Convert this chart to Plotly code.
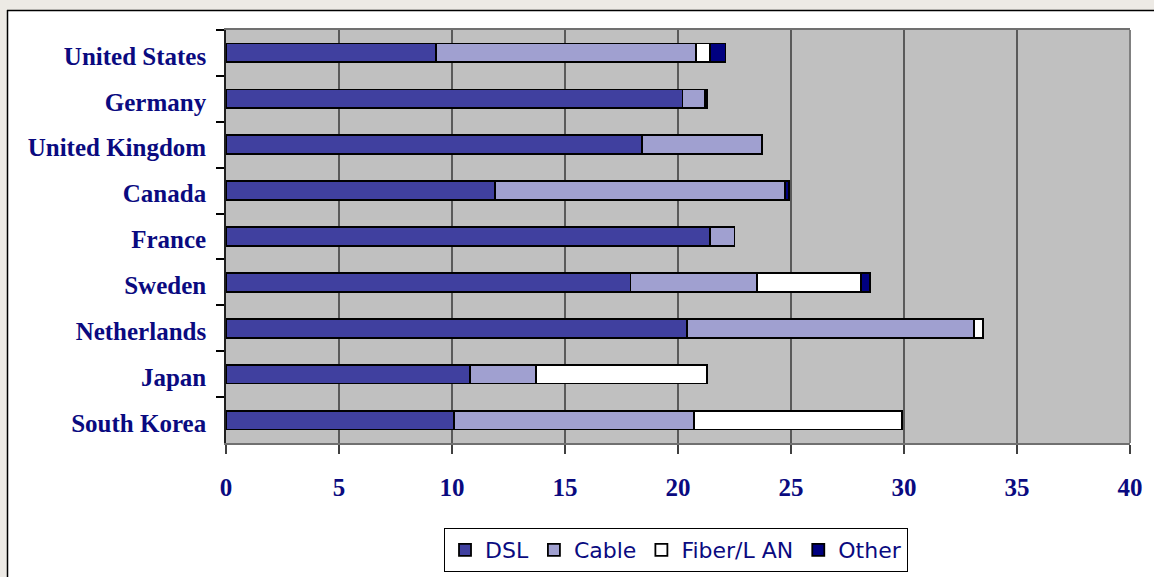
import plotly.graph_objects as go

countries = ["United States", "Germany", "United Kingdom", "Canada", "France",
             "Sweden", "Netherlands", "Japan", "South Korea"]
dsl = [9.3, 20.2, 18.4, 11.9, 21.4, 17.9, 20.4, 10.8, 10.1]
cable = [11.5, 1.0, 5.3, 12.85, 1.1, 5.6, 12.7, 2.9, 10.6]
fiber = [0.6, 0.0, 0.0, 0.0, 0.0, 4.6, 0.4, 7.6, 9.2]
other = [0.7, 0.1, 0.0, 0.15, 0.0, 0.4, 0.0, 0.0, 0.0]
x_ticks = [0, 5, 10, 15, 20, 25, 30, 35, 40]

series = [("DSL", dsl, "#40409F"), ("Cable", cable, "#A0A0D0"),
          ("Fiber/L AN", fiber, "#FFFFFF"), ("Other", other, "#000080")]

fig = go.Figure()
for name, vals, col in series:
    fig.add_trace(go.Bar(
        y=countries, x=vals, name=name, orientation="h",
        marker=dict(color=col, line=dict(color="#000000", width=1.8)),
    ))

navy = "#0A0A80"
fig.update_layout(
    width=1154, height=577,
    margin=dict(l=226, r=24, t=30, b=134, autoexpand=False),
    barmode="stack", bargap=0.59,
    paper_bgcolor="#FFFFFF", plot_bgcolor="#C0C0C0",
    showlegend=True,
    legend=dict(orientation="h", x=0.4978, xanchor="center",
                yref="container", y=1 - 528 / 577, yanchor="top",
                traceorder="normal", bgcolor="#FFFFFF", bordercolor="#000000", borderwidth=1,
                font=dict(family="DejaVu Sans", size=22, color=navy)),
    xaxis=dict(range=[0, 40], tickvals=x_ticks, ticktext=[str(v) for v in x_ticks],
               showgrid=True, gridcolor="#5A5A5A", gridwidth=1.6, zeroline=False,
               showline=True, linecolor="#707070", linewidth=2, mirror=True,
               ticks="outside", ticklen=9, tickcolor="#404040", tickwidth=1.5,
               ticklabelstandoff=12,
               tickfont=dict(family="Liberation Serif", size=25, color=navy, weight="bold")),
    yaxis=dict(autorange="reversed", showgrid=False, zeroline=False,
               showline=True, linecolor="#202020", linewidth=1.6,
               ticks="outside", tickson="boundaries", ticklen=8, tickcolor="#000000", tickwidth=1.5,
               ticklabelstandoff=13, ticklabelshift=-3,
               tickfont=dict(family="Liberation Serif", size=25, color=navy, weight="bold")),
    shapes=[
        dict(type="line", xref="paper", yref="paper", x0=1, x1=1, y0=0, y1=1,
             line=dict(color="#808080", width=2)),
        dict(type="rect", xref="paper", yref="paper", x0=-0.26, x1=1.05,
             y0=(443 - 10) / 413, y1=1.2, fillcolor="#EDEAE5", line=dict(width=0), layer="above"),
        dict(type="rect", xref="paper", yref="paper", x0=-0.26, x1=(7 - 226) / 904,
             y0=-0.4, y1=1.2, fillcolor="#EDEAE5", line=dict(width=0), layer="above"),
        dict(type="line", xref="paper", yref="paper", x0=(7 - 226) / 904, x1=1.05,
             y0=(443 - 10.5) / 413, y1=(443 - 10.5) / 413,
             line=dict(color="#000000", width=1.5), layer="above"),
        dict(type="line", xref="paper", yref="paper", x0=(7.5 - 226) / 904, x1=(7.5 - 226) / 904,
             y0=-0.4, y1=(443 - 10) / 413,
             line=dict(color="#000000", width=1.5), layer="above"),
    ],
)

fig.write_html("out.html", config={"displayModeBar": False},
               post_script="document.body.style.margin='0';")
